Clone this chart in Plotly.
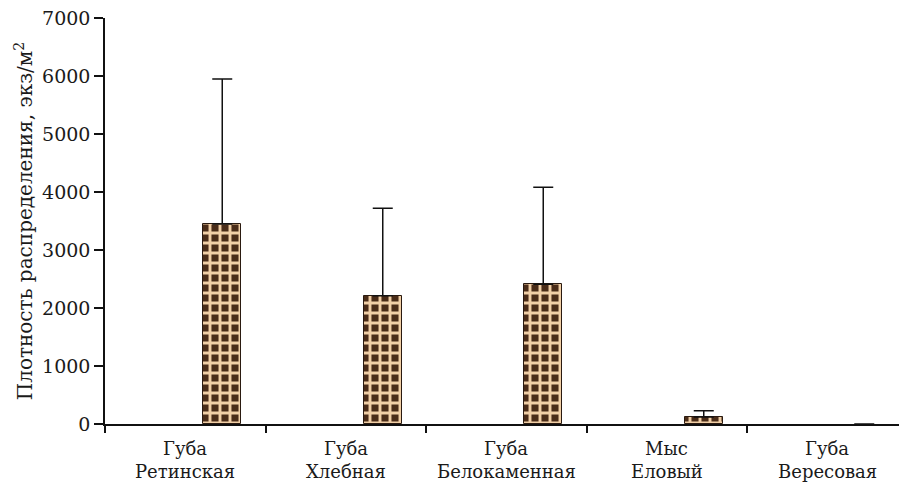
import plotly.graph_objects as go

# Sampling sites: first and second line of each label
site_line1 = ["Губа", "Губа", "Губа", "Мыс", "Губа"]
site_line2 = ["Ретинская", "Хлебная", "Белокаменная", "Еловый", "Вересовая"]
sites = [a + " " + b for a, b in zip(site_line1, site_line2)]

# Mean density, ind./m2
density = [3450, 2210, 2410, 120, 0]
# Upper error (standard deviation)
density_err = [2500, 1510, 1670, 110, 0]

y_ticks = [0, 1000, 2000, 3000, 4000, 5000, 6000, 7000]

font_family = "DejaVu Serif"
ink = "#1a1a1a"

# no whisker where nothing was found
err_plus = [e if e > 0 else None for e in density_err]

fig = go.Figure()
fig.add_trace(go.Bar(
    x=sites,
    y=density,
    width=0.237,
    offset=0.112,
    marker=dict(
        color="#4a2c18",
        line=dict(color="#2a1a10", width=[1 if v > 0 else 0 for v in density]),
        pattern=dict(shape="+", fgcolor="#f1cfa6", bgcolor="#4a2c18",
                     size=10, solidity=0.5, fillmode="replace"),
    ),
    error_y=dict(type="data", array=err_plus, symmetric=False,
                 arrayminus=[0] * len(density_err),
                 color="#111111", thickness=1.5, width=10),
    showlegend=False,
))

# Two-line category labels under the axis
for s, l1, l2 in zip(sites, site_line1, site_line2):
    fig.add_annotation(x=s, xref="x", y=-0.029, yref="paper", text=l1,
                       showarrow=False, yanchor="top", xanchor="center",
                       font=dict(family=font_family, size=18, color=ink))
    fig.add_annotation(x=s, xref="x", y=-0.085, yref="paper", text=l2,
                       showarrow=False, yanchor="top", xanchor="center",
                       font=dict(family=font_family, size=18, color=ink))

fig.update_layout(
    width=899, height=483,
    margin=dict(l=105, r=0, t=18, b=59),
    paper_bgcolor="white", plot_bgcolor="white",
    font=dict(family=font_family, size=19, color=ink),
    bargap=0,
    xaxis=dict(
        type="category",
        range=[-0.5, 4.447],
        showline=True, linecolor="#111111", linewidth=2,
        ticks="outside", tickson="boundaries", ticklen=7,
        tickcolor="#111111", tickwidth=1.5,
        showticklabels=False,
        showgrid=False, zeroline=False,
    ),
    yaxis=dict(
        range=[0, 7000],
        tickvals=y_ticks,
        ticktext=[str(v) for v in y_ticks],
        showline=True, linecolor="#111111", linewidth=1.5,
        ticks="outside", ticklen=9, tickcolor="#111111", tickwidth=1.5,
        showgrid=False, zeroline=False,
        tickfont=dict(family=font_family, size=19, color=ink),
        title=dict(text="Плотность распределения, экз/м<sup>2</sup>",
                   font=dict(family=font_family, size=20, color=ink),
                   standoff=4),
    ),
)

fig.write_html("out.html")
